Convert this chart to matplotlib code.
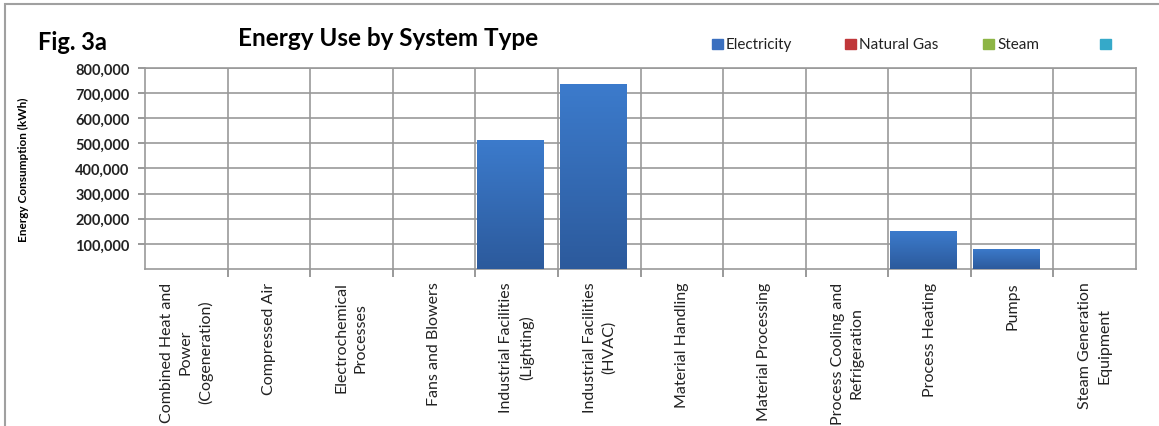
import numpy as np
import matplotlib.pyplot as plt
from matplotlib.patches import Rectangle
from matplotlib.colors import LinearSegmentedColormap

categories = [
    'Combined Heat and\nPower\n(Cogeneration)',
    'Compressed Air',
    'Electrochemical\nProcesses',
    'Fans and Blowers',
    'Industrial Facilities\n(Lighting)',
    'Industrial Facilities\n(HVAC)',
    'Material Handling',
    'Material Processing',
    'Process Cooling and\nRefrigeration',
    'Process Heating',
    'Pumps',
    'Steam Generation\nEquipment',
]
electricity = [0, 0, 0, 0, 515000, 736000, 0, 0, 0, 151000, 80000, 0]
series_names = ['Electricity', 'Natural Gas', 'Steam', '']
series_colors = ['#3a6fbf', '#c0373a', '#8db545', '#35a9c9']
yticks = [100000, 200000, 300000, 400000, 500000, 600000, 700000, 800000]

plt.rcParams['font.family'] = ['Lato', 'DejaVu Sans']

fig = plt.figure(figsize=(11.59, 4.27), dpi=100)
ax = fig.add_axes([0.1251, 0.3677, 0.8551, 0.4707])

x = np.arange(len(categories))
bars = ax.bar(x - 0.48, electricity, width=0.8, align='edge',
              color='#3a72c0', zorder=3)

# vertical gradient on the bars, like the Excel original
grad = np.linspace(0, 1, 256).reshape(-1, 1)
cmap = LinearSegmentedColormap.from_list('bar', ['#2c5a9c', '#3c7bcc'])
for b in bars:
    if b.get_height() <= 0:
        continue
    x0, y0 = b.get_x(), b.get_y()
    im = ax.imshow(grad, cmap=cmap, aspect='auto', origin='lower', zorder=4,
                   extent=(x0, x0 + b.get_width(), y0, y0 + b.get_height()))
    im.set_clip_path(b)

ax.set_xlim(-0.5, len(categories) - 0.5)
ax.set_ylim(0, 800000)
ax.set_yticks(yticks)
ax.set_yticklabels([f'{v:,}' for v in yticks], fontsize=10.5, fontweight='bold',
                   color='#222222')
ax.set_xticks(x)
ax.set_xticklabels(categories, rotation=90, fontsize=11.5, ha='center', va='top',
                   multialignment='center', color='#222222', linespacing=1.45)
ax.set_xticks(x[:-1] + 0.5, minor=True)
ax.tick_params(axis='x', which='major', length=0, pad=9)
ax.tick_params(axis='x', which='minor', length=6, color='#888888', width=1.2)
ax.tick_params(axis='y', length=5, color='#888888', width=1.2, pad=6)
ax.grid(True, which='minor', axis='x', color='#999999', lw=1.2, zorder=0)
ax.grid(True, which='major', axis='y', color='#999999', lw=1.2, zorder=0)
for s in ax.spines.values():
    s.set_color('#999999')
    s.set_linewidth(1.2)
ax.set_ylabel('Energy Consumption (kWh)', fontsize=8.5, fontweight='bold')
ax.yaxis.set_label_coords(-0.117, 0.5)

fig.text(38 / 1159, 1 - 42 / 427, 'Fig. 3a', fontsize=17, fontweight='bold',
         va='center')
fig.text(388 / 1159, 1 - 38 / 427, 'Energy Use by System Type', fontsize=17.5,
         fontweight='bold', va='center', ha='center')

# legend
leg_x = [712, 845, 983, 1100]
for px, name, col in zip(leg_x, series_names, series_colors):
    fig.patches.append(Rectangle((px / 1159, 1 - 50 / 427), 11 / 1159, 10 / 427,
                                 transform=fig.transFigure, color=col))
    if name:
        fig.text((px + 14) / 1159, 1 - 45 / 427, name, fontsize=11, va='center',
                 color='#222222')

# outer chart border (cropped at right and bottom)
fig.patches.append(Rectangle((5 / 1159, -0.1), 1.2, 1 - 5 / 427 + 0.1,
                             transform=fig.transFigure, fill=False,
                             edgecolor='#a0a0a0', lw=1.5))

plt.savefig('out.png', dpi=100)
